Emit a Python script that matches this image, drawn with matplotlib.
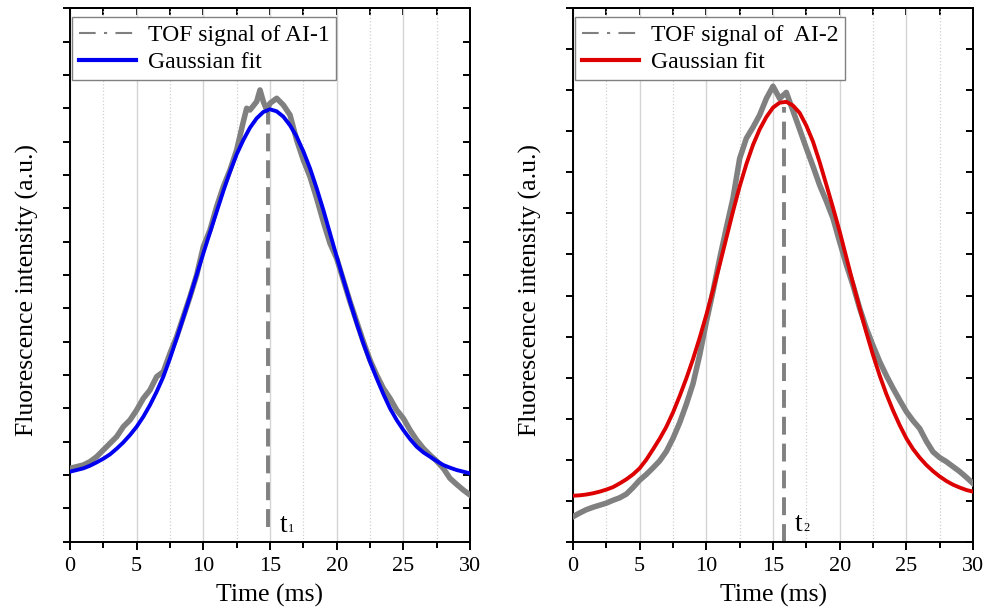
import matplotlib
matplotlib.use('Agg')
import matplotlib.pyplot as plt
from matplotlib.lines import Line2D
from matplotlib.ticker import MultipleLocator

plt.rcParams['font.family'] = ['Liberation Serif', 'DejaVu Serif']

# ---------------- data (arbitrary intensity units) ----------------
# Left panel: AI-1
t_ai1 = [0, 0.5, 1, 1.5, 2, 2.5, 3, 3.5, 4, 4.5, 5, 5.5, 6, 6.5, 7, 7.5, 8, 8.5, 9, 9.5,
         10, 10.5, 11, 11.5, 12, 12.5, 13, 13.25, 13.5, 14, 14.25, 14.5, 14.75, 15, 15.5,
         16, 16.5, 17, 17.5, 18, 18.5, 19, 19.5, 20, 20.5, 21, 21.5, 22, 22.5, 23, 23.5,
         24, 24.5, 25, 25.5, 26, 26.5, 27, 27.5, 28, 28.5, 29, 29.5, 30]
sig_ai1 = [2.20, 2.25, 2.30, 2.40, 2.55, 2.75, 2.95, 3.15, 3.45, 3.65, 3.95, 4.30, 4.55, 4.95,
           5.10, 5.65, 6.15, 6.75, 7.35, 8.00, 8.85, 9.35, 10.05, 10.65, 11.15, 11.75, 12.60,
           13.00, 12.95, 13.20, 13.55, 13.20, 12.95, 13.15, 13.30, 13.10, 12.80, 12.05, 11.45,
           10.95, 10.30, 9.60, 8.95, 8.50, 7.85, 7.20, 6.60, 6.00, 5.45, 5.00, 4.60, 4.30,
           3.95, 3.70, 3.35, 3.05, 2.80, 2.60, 2.42, 2.20, 1.90, 1.72, 1.55, 1.40]
t_fit = [x * 0.5 for x in range(0, 61)]
fit_ai1 = [2.10, 2.15, 2.20, 2.28, 2.38, 2.49, 2.62, 2.79, 2.98, 3.20, 3.45, 3.75, 4.10, 4.50,
           4.95, 5.50, 6.10, 6.72, 7.35, 8.00, 8.65, 9.28, 9.90, 10.52, 11.10, 11.62, 12.05,
           12.42, 12.70, 12.89, 12.97, 12.91, 12.75, 12.49, 12.15, 11.71, 11.20, 10.60, 9.95,
           9.25, 8.55, 7.87, 7.20, 6.55, 5.95, 5.40, 4.90, 4.43, 4.00, 3.65, 3.35, 3.08, 2.85,
           2.68, 2.55, 2.42, 2.30, 2.22, 2.15, 2.10, 2.05]
t1_peak = 14.87

# Right panel: AI-2
t_ai2 = [x * 0.5 for x in range(0, 61)]
sig_ai2 = [0.61, 0.70, 0.78, 0.84, 0.89, 0.94, 1.01, 1.07, 1.16, 1.32, 1.50, 1.64, 1.80, 1.97,
           2.20, 2.52, 2.90, 3.35, 3.85, 4.55, 5.36, 6.10, 6.90, 7.65, 8.37, 9.34, 9.83, 10.10,
           10.40, 10.80, 11.10, 10.80, 10.95, 10.50, 10.05, 9.59, 9.15, 8.69, 8.30, 7.88, 7.31,
           6.75, 6.25, 5.69, 5.20, 4.78, 4.39, 4.05, 3.74, 3.45, 3.17, 2.95, 2.76, 2.45, 2.19,
           2.05, 1.95, 1.83, 1.71, 1.57, 1.42]
fit_ai2 = [1.12, 1.13, 1.15, 1.18, 1.22, 1.27, 1.33, 1.42, 1.52, 1.64, 1.79, 2.00, 2.25, 2.51,
           2.80, 3.15, 3.55, 3.98, 4.45, 4.97, 5.53, 6.13, 6.75, 7.40, 8.05, 8.66, 9.20, 9.67,
           10.05, 10.35, 10.58, 10.70, 10.72, 10.63, 10.45, 10.14, 9.75, 9.25, 8.70, 8.14, 7.56,
           6.93, 6.30, 5.69, 5.10, 4.55, 4.05, 3.60, 3.20, 2.84, 2.52, 2.26, 2.05, 1.87, 1.72,
           1.59, 1.48, 1.39, 1.32, 1.26, 1.22]
t2_peak = 15.8

xticks = [0, 5, 10, 15, 20, 25, 30]

GRAY = '#808080'
SPINE_W = 1.4

fig = plt.figure(figsize=(9.89, 6.12), dpi=100)
b = (612 - 541.7) / 612
h = 533.4 / 612
axL = fig.add_axes([70 / 989, b, 400 / 989, h])
axR = fig.add_axes([573 / 989, b, 400 / 989, h])


def style(ax, ymax):
    ax.set_xlim(0, 30)
    ax.set_ylim(0, ymax)
    ax.set_xticks(xticks)
    ax.xaxis.set_minor_locator(MultipleLocator(2.5))
    ax.yaxis.set_major_locator(MultipleLocator(1))
    ax.tick_params(axis='x', which='major', direction='out', length=6, width=SPINE_W,
                   labelsize=16, pad=5, top=False)
    ax.tick_params(axis='x', which='minor', direction='out', length=4.5, width=SPINE_W,
                   top=False)
    ax.tick_params(axis='y', which='both', direction='out', length=5, width=SPINE_W,
                   labelleft=False, right=False)
    for s in ax.spines.values():
        s.set_linewidth(SPINE_W)
    ax.grid(axis='x', which='major', color='#d4d4d4', lw=1.0, ls='-', zorder=0)
    ax.grid(axis='x', which='minor', color='#d0d0d0', lw=0.9, ls=':', zorder=0)
    ax.set_axisbelow(True)
    top = ax.secondary_xaxis('top')
    top.xaxis.set_major_locator(MultipleLocator(2.5))
    top.tick_params(direction='in', length=5, width=SPINE_W, labeltop=False)
    top.spines['top'].set_linewidth(SPINE_W)
    right = ax.secondary_yaxis('right')
    right.yaxis.set_major_locator(MultipleLocator(1))
    right.tick_params(direction='in', length=5, width=SPINE_W, labelright=False)
    right.spines['right'].set_linewidth(SPINE_W)
    ax.set_xlabel('Time (ms)', fontsize=18.5, labelpad=6)
    ax.set_ylabel('Fluorescence intensity (a.u.)', fontsize=18.5)
    ax.yaxis.set_label_coords(-0.078, 0.472)


def legend(ax, label1, color):
    h1 = Line2D([], [], color=GRAY, lw=1.5, dashes=[8, 4, 1.5, 4])
    h2 = Line2D([], [], color=color, lw=3)
    leg = ax.legend([h1, h2], [label1, 'Gaussian fit'], loc='upper left',
                    bbox_to_anchor=(0.005, 0.983), borderaxespad=0, frameon=True,
                    fancybox=False, edgecolor=GRAY, framealpha=1, fontsize=17,
                    handlelength=2.4, handletextpad=0.5, labelspacing=0.25, borderpad=0.3)
    leg.get_frame().set_linewidth(1.0)
    leg.set_zorder(10)


# Left panel
style(axL, 16)
axL.vlines(t1_peak, 0.45, 12.9, colors=GRAY, lw=2.8, linestyles=(0, (4.6, 2.3)), zorder=2)
axL.plot(t_ai1, sig_ai1, color=GRAY, lw=4.0, solid_joinstyle='round', zorder=3)
axL.plot(t_fit, fit_ai1, color='#0000f0', lw=2.8, zorder=4)
axL.text(15.75, 0.3, 't', fontsize=20, ha='left', va='baseline')
axL.annotate('1', xy=(15.75, 0.3), xytext=(6, 0), textcoords='offset points',
             fontsize=9, va='baseline', ha='left')
legend(axL, 'TOF signal of AI-1', '#0000f0')

# Right panel
style(axR, 13)
axR.vlines(t2_peak, 0, 10.6, colors=GRAY, lw=2.8, linestyles=(0, (4.6, 2.3)), zorder=2)
axR.plot(t_ai2, sig_ai2, color=GRAY, lw=4.0, solid_joinstyle='round', zorder=3)
axR.plot(t_fit, fit_ai2, color='#dd0000', lw=2.8, zorder=4)
axR.text(16.63, 0.26, 't', fontsize=20, ha='left', va='baseline')
axR.annotate('2', xy=(16.63, 0.26), xytext=(6, 0), textcoords='offset points',
             fontsize=9, va='baseline', ha='left')
legend(axR, 'TOF signal of  AI-2', '#dd0000')

fig.savefig('out.png', dpi=100)
